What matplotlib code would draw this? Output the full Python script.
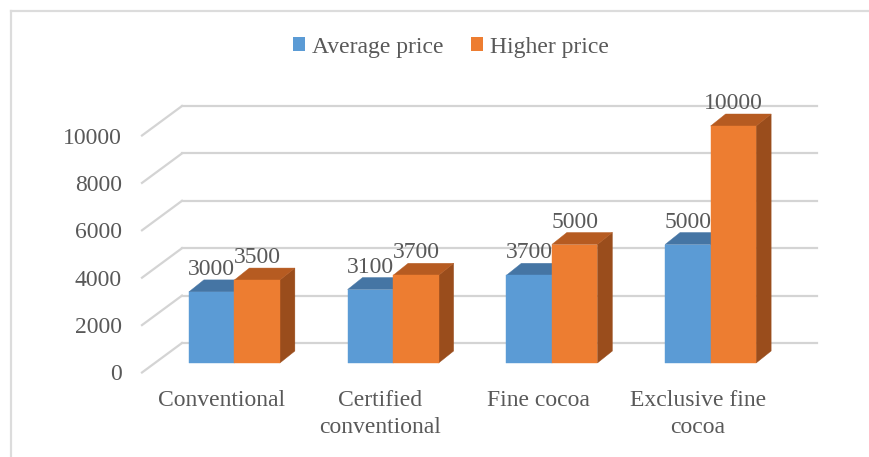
import matplotlib.pyplot as plt
from matplotlib.patches import Patch, Polygon
from matplotlib.lines import Line2D

# --- data ---
categories = ["Conventional", "Certified\nconventional", "Fine cocoa", "Exclusive fine\ncocoa"]
avg_price = [3000, 3100, 3700, 5000]
high_price = [3500, 3700, 5000, 10000]
series_names = ["Average price", "Higher price"]
y_ticks = [0, 2000, 4000, 6000, 8000, 10000]

# --- colours (front, top, side) ---
blue = ("#5b9bd5", "#4575a4", "#30608c")
orange = ("#ed7d31", "#b65b21", "#9a4d1c")
text_gray = "#595959"
grid_gray = "#d4d4d4"

plt.rcParams["font.family"] = ["Liberation Serif", "DejaVu Serif"]
plt.rcParams["font.size"] = 17

W, H, DPI = 870, 457, 100
fig = plt.figure(figsize=(W / DPI, H / DPI), dpi=DPI)

# front plane of the bars, in pixels
plot_left, plot_right = 155, 790
base_y = 363
px_per_2000 = 47.4
y_max = 12000

ax = fig.add_axes([plot_left / W, (H - base_y) / H,
                   (plot_right - plot_left) / W,
                   y_max / 2000 * px_per_2000 / H])
ax.set_xlim(-0.5, len(categories) - 0.5)
ax.set_ylim(0, y_max)
ax.axis("off")

x_per_px = len(categories) / (plot_right - plot_left)
y_per_px = 2000 / px_per_2000


def off(dx, dy):
    # pixel offset -> data offset (dy positive = up)
    return dx * x_per_px, dy * y_per_px


bar_w = 45.5 * x_per_px
depth_x, depth_y = off(15, 12)      # bar depth
back_x, back_y = off(27, 20)        # back wall
front_x, front_y = off(-13, -9.5)   # front edge of the floor

x0, x1 = -0.5, len(categories) - 0.5

# back wall gridlines and the left side wall
for v in y_ticks:
    ax.plot([x0 + back_x, x1 + back_x], [v + back_y, v + back_y],
            color=grid_gray, lw=1.6, clip_on=False, zorder=1)
    ax.plot([x0 + front_x, x0 + back_x], [v + front_y, v + back_y],
            color=grid_gray, lw=1.6, clip_on=False, zorder=1)
    lx, ly = off(-20, -8)
    ax.text(x0 + front_x + lx, v + front_y + ly, str(v), ha="right",
            va="baseline", color=text_gray)


def bar3d(xl, h, cols, z):
    xr = xl + bar_w
    side = [(xr, 0), (xr + depth_x, depth_y), (xr + depth_x, h + depth_y), (xr, h)]
    top = [(xl, h), (xr, h), (xr + depth_x, h + depth_y), (xl + depth_x, h + depth_y)]
    front = [(xl, 0), (xr, 0), (xr, h), (xl, h)]
    for pts, c in ((side, cols[2]), (top, cols[1]), (front, cols[0])):
        ax.add_patch(Polygon(pts, closed=True, facecolor=c, edgecolor=c,
                             lw=0.3, clip_on=False, zorder=z))


lab_dy = 17 * y_per_px
for i, (a, b) in enumerate(zip(avg_price, high_price)):
    bar3d(i - bar_w, a, blue, 3 + i)
    bar3d(i, b, orange, 3.5 + i)
    ax.text(i - bar_w / 2, a + lab_dy, str(a), ha="center", va="baseline",
            color=text_gray, zorder=10)
    ax.text(i + bar_w / 2, b + lab_dy, str(b), ha="center", va="baseline",
            color=text_gray, zorder=10)

# category labels under the floor edge
for i, name in enumerate(categories):
    ax.text(i + front_x, front_y - 18 * y_per_px, name, ha="center", va="top",
            color=text_gray, linespacing=1.32)

handles = [Patch(facecolor=blue[0], edgecolor="none"),
           Patch(facecolor=orange[0], edgecolor="none")]
leg = fig.legend(handles, series_names, loc="center",
                 bbox_to_anchor=(451 / W, 1 - 47 / H), ncol=2, frameon=False,
                 handlelength=0.5, handleheight=0.5, handletextpad=0.3,
                 columnspacing=1.2)
for t in leg.get_texts():
    t.set_color(text_gray)

# chart frame (only top and left edges fall inside the image)
fig.add_artist(Line2D([11.5 / W, 1], [1 - 10.5 / H, 1 - 10.5 / H],
                      color="#dcdcdc", lw=1.6))
fig.add_artist(Line2D([11.5 / W, 11.5 / W], [0, 1 - 10.5 / H],
                      color="#dcdcdc", lw=1.6))

fig.savefig("out.png", dpi=DPI)
